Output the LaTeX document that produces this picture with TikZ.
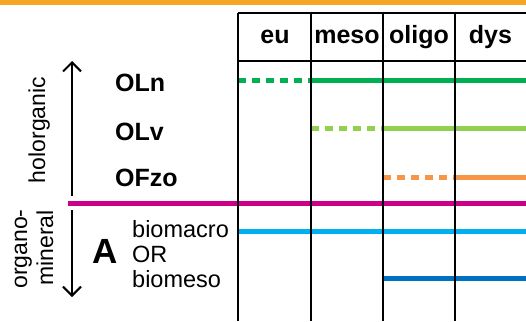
\documentclass[tikz,border=0pt]{standalone}
\usepackage{fontspec}
\setmainfont{Liberation Sans}
\usetikzlibrary{arrows.meta}
\definecolor{barorange}{RGB}{245,166,35}
\definecolor{ogreen}{RGB}{0,176,80}
\definecolor{lgreen}{RGB}{146,208,80}
\definecolor{lorange}{RGB}{247,150,70}
\definecolor{magline}{RGB}{204,0,136}
\definecolor{cyanline}{RGB}{0,176,240}
\definecolor{blueline}{RGB}{0,112,192}
\begin{document}
\begin{tikzpicture}[x=1pt,y=-1pt,
  gridline/.style={line width=2.5pt, black},
  hline/.style={line width=5pt},
  dashpart/.style={hline, dash pattern=on 8pt off 6pt},
  hdr/.style={font=\fontsize{25}{28}\selectfont\bfseries, anchor=base, inner sep=0},
  layer/.style={font=\fontsize{25}{28}\selectfont\bfseries, anchor=base west, inner sep=0},
  plain/.style={font=\fontsize{23.5}{26}\selectfont, anchor=base west, inner sep=0},
  side/.style={font=\fontsize{23}{26}\selectfont, rotate=90, anchor=base, inner sep=0},
  axisarrow/.style={line width=2pt, -{Straight Barb[length=9pt,width=18pt,line width=2pt]}}
]
\useasboundingbox (0,0) rectangle (526,321);
\fill[barorange] (0,0) rectangle (526,5.5);

% coordinates
\coordinate (c0) at (238,0);
\coordinate (c1) at (311,0);
\coordinate (c2) at (383,0);
\coordinate (c3) at (455,0);
\coordinate (cE) at (526,0);

% colored lines
\draw[dashpart, ogreen] (238,80) coordinate (gA) -- (311,80) coordinate (gB);
\draw[hline, ogreen] (gB) -- (526,80) coordinate (gC);
\draw[dashpart, lgreen] (311,128) coordinate (lA) -- (383,128) coordinate (lB);
\draw[hline, lgreen] (lB) -- (526,128) coordinate (lC);
\draw[dashpart, lorange] (383,177) coordinate (oA) -- (455,177) coordinate (oB);
\draw[hline, lorange] (oB) -- (526,177) coordinate (oC);
\draw[hline, magline] (68,203) coordinate (mA) -- (526,203) coordinate (mB);
\draw[hline, cyanline] (238,231) coordinate (cyA) -- (526,231) coordinate (cyB);
\draw[hline, blueline] (383,278) coordinate (bA) -- (526,278) coordinate (bB);

% table grid
\draw[gridline] (238,13) -- (526,13);
\draw[gridline] (238,61) -- (526,61);
\foreach \xx in {238,311,383,455} \draw[gridline] (\xx,13) -- (\xx,321);

% headers
\node[hdr] (eu) at (275,43) {eu};
\node[hdr] (meso) at (347,43) {meso};
\node[hdr] (oligo) at (419,43) {oligo};
\node[hdr] (dys) at (490.5,43) {dys};

% layer labels
\node[layer] (oln) at (115,91) {OLn};
\node[layer] (olv) at (115,140) {OLv};
\node[layer] (ofzo) at (115,186) {OFzo};

\node[font=\fontsize{35}{38}\selectfont\bfseries, anchor=base, inner sep=0] (A) at (105,263) {A};
\node[plain] (bmac) at (132,237) {biomacro};
\node[plain] (or) at (132,262) {OR};
\node[plain] (bmes) at (132,287) {biomeso};

% side labels
\node[side] (holo) at (45,130) {holorganic};
\node[side] (organo) at (27,249) {organo-};
\node[side] (mineral) at (53,248) {mineral};

% axis arrows
\coordinate (upS) at (72,196);
\coordinate (upE) at (72,61);
\coordinate (dnS) at (72,210);
\coordinate (dnE) at (72,297);
\draw[axisarrow] (upS) -- (upE);
\draw[axisarrow] (dnS) -- (dnE);
\end{tikzpicture}
\end{document}
